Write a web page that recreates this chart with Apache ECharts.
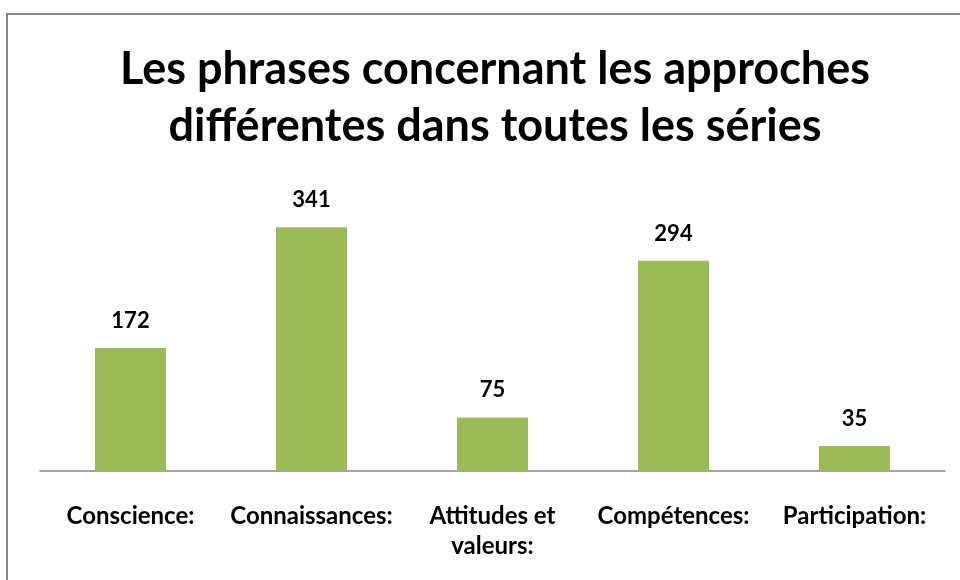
<!DOCTYPE html>
<html>
<head>
<meta charset="utf-8">
<script src="https://cdn.jsdelivr.net/npm/echarts@6/dist/echarts.min.js"></script>
<style>
  html, body { margin: 0; padding: 0; background: #fff; }
  #chart { width: 960px; height: 580px; }
</style>
</head>
<body>
<div id="chart"></div>
<script>
// categories and counts
var categories = ["Conscience:", "Connaissances:", "Attitudes et\nvaleurs:", "Compétences:", "Participation:"];
var counts = [172, 341, 75, 294, 35];

var chart = echarts.init(document.getElementById("chart"));

var option = {
  animation: false,
  backgroundColor: "#fff",
  title: {
    text: "Les phrases concernant les approches\ndifférentes dans toutes les séries",
    left: 490,
    textAlign: "center",
    top: 36,
    textStyle: {
      fontFamily: "Lato",
      fontWeight: "bold",
      fontSize: 45,
      lineHeight: 57,
      color: "#000"
    }
  },
  graphic: [
    {
      type: "rect",
      shape: { x: 7, y: 14, width: 1000, height: 620 },
      style: { fill: "none", stroke: "#868686", lineWidth: 2 },
      silent: true
    }
  ],
  grid: { left: 40, right: 15, top: 185, bottom: 109 },
  xAxis: {
    type: "category",
    data: categories,
    axisLine: { lineStyle: { color: "#868686", width: 1.5 } },
    axisTick: { show: false },
    axisLabel: {
      interval: 0,
      margin: 30,
      fontFamily: "Lato",
      fontWeight: "bold",
      fontSize: 24,
      lineHeight: 30,
      color: "#000"
    }
  },
  yAxis: {
    type: "value",
    min: 0,
    max: 400,
    interval: 50,
    show: false,
    splitLine: { show: false }
  },
  series: [
    {
      type: "bar",
      data: counts,
      barWidth: 71,
      itemStyle: { color: "#9BBB59" },
      label: {
        show: true,
        position: "top",
        distance: 16,
        fontFamily: "Lato",
        fontWeight: "bold",
        fontSize: 22,
        color: "#000"
      }
    }
  ]
};

chart.setOption(option);
</script>
</body>
</html>
